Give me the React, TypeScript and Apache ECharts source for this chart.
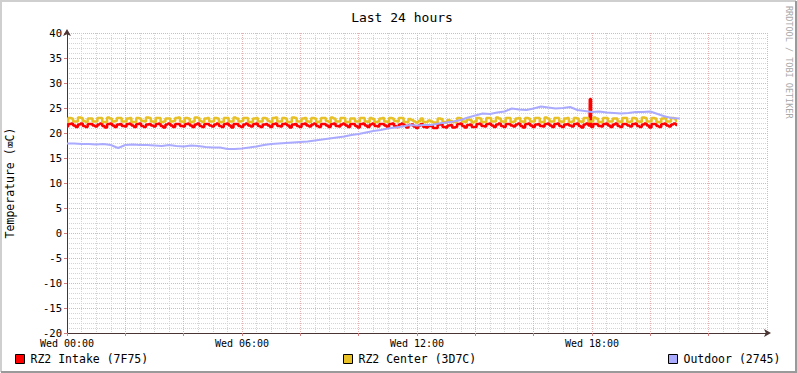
import React, { useEffect, useRef } from "react";
import * as echarts from "echarts";

const TITLE = "Last 24 hours";
const Y_NAME = "Temperature (\u2327C)";
const WATERMARK = "RRDTOOL / TOBI OETIKER";
const SERIES_NAMES = ["RZ2 Intake (7F75)", "RZ2 Center (3D7C)", "Outdoor (2745)"];
const SERIES_COLORS = ["#FF0000", "#E8C127", "#AAAAFF"];
const DAY_PREFIX = "Wed";

// minutes between samples
const STEP_FAST = 5;
const STEP_OUTDOOR = 15;

const intake = [
  21.3, 21.8, 21.9, 21.5, 21.2, 21.7, 21.9, 21.4, 21.2, 21.8, 21.8, 21.5, 21.3, 21.7, 21.9, 21.4,
  21.1, 21.8, 21.9, 21.5, 21.2, 21.7, 21.8, 21.4, 21.3, 21.8, 21.9, 21.5, 21.2, 21.8, 21.9, 21.4,
  21.2, 21.7, 21.8, 21.5, 21.3, 21.8, 21.9, 21.4, 21.1, 21.7, 21.9, 21.5, 21.2, 21.8, 21.8, 21.4,
  21.3, 21.8, 21.9, 21.5, 21.2, 21.7, 21.9, 21.4, 21.2, 21.8, 21.8, 21.5, 21.3, 21.7, 21.9, 21.4,
  21.2, 21.8, 21.9, 21.5, 21.1, 21.8, 21.8, 21.4, 21.2, 21.7, 21.9, 21.5, 21.3, 21.8, 21.9, 21.4,
  21.2, 21.7, 21.8, 21.5, 21.2, 21.8, 21.9, 21.4, 21.3, 21.8, 21.9, 21.5, 21.1, 21.7, 21.8, 21.4,
  21.2, 21.8, 21.9, 21.5, 21.3, 21.7, 21.9, 21.4, 21.2, 21.8, 21.8, 21.5, 21.2, 21.8, 21.9, 21.4,
  21.3, 21.7, 21.9, 21.5, 21.2, 21.8, 21.8, 21.4, 21.1, 21.8, 21.9, 21.5, 21.2, 21.7, 21.9, 21.4,
  21.3, 21.8, 21.8, 21.5, 21.2, 21.8, 21.9, 21.4, 21.2, 21.7, 21.9, 21.5, 21.1, 21.6, 21.7, 21.3,
  21.0, 21.5, 21.8, 21.2, 21.1, 21.4, 21.5, 21.0, 21.0, 21.7, 21.8, 21.2, 21.1, 21.5, 21.6, 21.1,
  21.2, 21.8, 21.9, 21.4, 21.1, 21.6, 21.7, 21.2, 21.2, 21.8, 21.9, 21.4, 21.3, 21.8, 21.9, 21.5,
  21.2, 21.7, 21.9, 21.4, 21.2, 21.8, 21.8, 21.5, 21.3, 21.7, 21.9, 21.4, 21.1, 21.8, 21.9, 21.5,
  21.2, 21.7, 21.8, 21.4, 21.3, 21.8, 21.9, 21.5, 21.2, 21.8, 21.9, 21.4, 21.2, 21.7, 21.8, 21.5,
  21.3, 21.8, 21.9, 21.4, 21.1, 21.7, 21.9, 21.5, 21.2, 21.8, 21.8, 21.4, 21.3, 21.8, 21.9, 21.5,
  21.2, 21.7, 21.9, 21.4, 21.2, 21.8, 21.8, 21.5, 21.3, 21.8, 21.9, 21.4, 21.2, 21.7, 21.9, 21.5,
  21.1, 21.8, 21.8, 21.4, 21.2, 21.8, 21.9, 21.5, 21.3, 21.7, 21.9, 21.6,
];

// [minute, value] — the short sensor spike shortly before 18:00
const intakeSpike = [[1076, 26.8]];

const center = [
  22.2, 23.0, 22.9, 22.3, 22.3, 23.1, 23.0, 22.4, 22.2, 22.9, 22.9, 22.3, 22.3, 23.0, 23.0, 22.2,
  22.2, 23.1, 22.9, 22.3, 22.4, 23.0, 23.0, 22.3, 22.3, 22.9, 23.0, 22.2, 22.2, 23.0, 22.9, 22.4,
  22.3, 23.1, 23.0, 22.3, 22.2, 23.0, 23.0, 22.2, 22.3, 22.9, 22.9, 22.3, 22.4, 23.0, 23.1, 22.3,
  22.2, 23.0, 22.9, 22.2, 22.3, 23.1, 23.0, 22.4, 22.2, 22.9, 23.0, 22.3, 22.3, 23.0, 22.9, 22.2,
  22.2, 23.0, 23.0, 22.3, 22.3, 23.1, 22.9, 22.3, 22.4, 23.0, 23.0, 22.2, 22.2, 22.9, 23.0, 22.3,
  22.3, 23.0, 22.9, 22.4, 22.2, 23.0, 23.1, 22.3, 22.3, 23.0, 22.9, 22.2, 22.2, 23.1, 23.0, 22.3,
  22.3, 22.9, 23.0, 22.3, 22.2, 23.0, 22.9, 22.2, 22.3, 23.0, 23.0, 22.4, 22.2, 23.1, 22.9, 22.3,
  22.3, 23.0, 23.0, 22.2, 22.2, 22.9, 22.9, 22.3, 22.3, 23.0, 23.0, 22.3, 22.2, 23.0, 22.8, 22.2,
  22.3, 22.9, 23.0, 22.3, 22.2, 23.0, 22.9, 22.4, 22.3, 23.0, 23.0, 22.2, 22.2, 22.8, 22.6, 22.3,
  22.1, 22.4, 22.9, 22.2, 22.2, 22.5, 22.3, 22.1, 22.0, 22.9, 22.8, 22.2, 22.1, 22.6, 22.4, 22.2,
  22.2, 23.0, 22.9, 22.3, 22.2, 22.7, 22.6, 22.1, 22.3, 23.0, 22.9, 22.2, 22.2, 23.0, 23.0, 22.3,
  22.3, 23.1, 22.9, 22.3, 22.2, 23.0, 23.0, 22.2, 22.3, 22.9, 23.0, 22.3, 22.2, 23.0, 22.9, 22.3,
  22.3, 23.0, 23.0, 22.2, 22.2, 23.1, 22.9, 22.3, 22.3, 23.0, 23.0, 22.3, 22.2, 22.9, 23.0, 22.2,
  22.3, 23.0, 22.9, 22.3, 22.2, 23.0, 23.0, 22.3, 22.3, 23.1, 22.9, 22.2, 22.2, 23.0, 23.0, 22.3,
  22.3, 22.9, 22.9, 22.3, 22.2, 23.0, 23.0, 22.2, 22.3, 23.0, 22.9, 22.3, 22.2, 23.1, 23.0, 22.3,
  22.3, 23.0, 22.9, 22.2, 22.2, 22.9, 23.0, 22.3, 22.3, 23.0, 22.9, 22.4,
];

const outdoor = [
  17.9, 17.9, 17.8, 17.8, 17.7, 17.8, 17.6, 17.0, 17.6, 17.7,
  17.6, 17.6, 17.5, 17.4, 17.6, 17.4, 17.3, 17.5, 17.4, 17.2,
  17.1, 17.1, 16.8, 16.8, 16.9, 17.1, 17.3, 17.6, 17.8, 17.9,
  18.0, 18.1, 18.2, 18.3, 18.5, 18.7, 18.9, 19.1, 19.3, 19.6,
  19.8, 20.1, 20.4, 20.6, 20.9, 21.1, 21.3, 21.6, 21.5, 21.6,
  21.6, 21.9, 22.1, 22.3, 22.6, 23.1, 23.5, 23.9, 23.8, 24.1,
  24.3, 24.9, 24.7, 24.6, 24.9, 25.3, 25.1, 24.9, 25.0, 25.2,
  24.6, 24.4, 24.2, 24.3, 24.1, 24.0, 23.9, 24.0, 24.2, 24.2,
  24.3, 23.8, 23.3, 23.0, 22.9,
];

const X_MIN = 0;
const X_MAX = 1440;
const X_MAJOR = 120;
const X_LABEL_EVERY = 360;
const Y_MIN = -20;
const Y_MAX = 40;
const Y_MAJOR = 5;

const FONT = "DejaVu Sans Mono";

function pad(n: number) {
  return n < 10 ? "0" + n : String(n);
}

export default function App() {
  const ref = useRef<HTMLDivElement>(null);

  useEffect(() => {
    if (!ref.current) return;
    const chart = echarts.init(ref.current, undefined, { renderer: "svg" });

    const intakeData = intake
      .map((v, i) => [i * STEP_FAST, v])
      .concat(intakeSpike)
      .sort((a, b) => a[0] - b[0]);
    const centerData = center.map((v, i) => [i * STEP_FAST, v]);
    const outdoorData = outdoor.map((v, i) => [i * STEP_OUTDOOR, v]);

    const majorGrid = { color: "#E4B4B4", width: 1, type: [1, 1] as any };
    const minorGrid = { color: "#D4D4D4", width: 1, type: [1, 1] as any };
    const axisLineStyle = { color: "#4A3434", width: 1 };

    const legendBase = {
      icon: "rect",
      itemWidth: 9,
      itemHeight: 9,
      itemGap: 6,
      selectedMode: false,
      padding: 0,
      itemStyle: { borderColor: "#000", borderWidth: 1 },
      textStyle: { fontFamily: FONT, fontSize: 11.5, color: "#000", padding: [0, 0, 0, 1] },
      top: 353,
    };

    chart.setOption({
      animation: false,
      backgroundColor: "#FFFFFF",
      title: {
        text: TITLE,
        left: 397,
        textAlign: "center",
        top: 6,
        textStyle: { fontFamily: FONT, fontSize: 13, fontWeight: "normal", color: "#000" },
      },
      legend: [
        { ...legendBase, data: [SERIES_NAMES[0]], left: 15 },
        { ...legendBase, data: [SERIES_NAMES[1]], left: 343 },
        { ...legendBase, data: [SERIES_NAMES[2]], left: 668 },
      ],
      grid: {
        left: 67,
        right: 30,
        top: 33,
        bottom: 40,
        containLabel: false,
        outerBoundsMode: "none",
      },
      xAxis: {
        type: "value",
        min: X_MIN,
        max: X_MAX,
        interval: X_MAJOR,
        axisLine: {
          show: true,
          onZero: false,
          symbol: ["none", "arrow"],
          symbolSize: [6, 7],
          symbolOffset: [0, 4],
          lineStyle: axisLineStyle,
        },
        axisTick: { show: true, length: 3, lineStyle: { color: "#D08080" } },
        minorTick: { show: false, splitNumber: 4 },
        splitLine: { show: true, lineStyle: majorGrid },
        minorSplitLine: { show: true, lineStyle: minorGrid },
        axisLabel: {
          margin: 5,
          fontFamily: FONT,
          fontSize: 10,
          color: "#000",
          showMaxLabel: false,
          formatter: (v: number) =>
            v % X_LABEL_EVERY === 0 && v < X_MAX ? `${DAY_PREFIX} ${pad(v / 60)}:00` : "",
        },
      },
      yAxis: {
        type: "value",
        min: Y_MIN,
        max: Y_MAX,
        interval: Y_MAJOR,
        name: Y_NAME,
        nameLocation: "middle",
        nameGap: 51,
        nameRotate: 90,
        nameTextStyle: { fontFamily: FONT, fontSize: 11.5, color: "#000" },
        axisLine: {
          show: true,
          onZero: false,
          symbol: ["none", "arrow"],
          symbolSize: [6, 7],
          symbolOffset: [0, 4],
          lineStyle: axisLineStyle,
        },
        axisTick: { show: true, length: 3, lineStyle: { color: "#D08080" } },
        minorTick: { show: false, splitNumber: 5 },
        splitLine: { show: true, lineStyle: majorGrid },
        minorSplitLine: { show: true, lineStyle: minorGrid },
        axisLabel: { margin: 5, fontFamily: FONT, fontSize: 10.5, color: "#000" },
      },
      series: [
        {
          name: SERIES_NAMES[0],
          type: "line",
          data: intakeData,
          showSymbol: false,
          step: "middle",
          color: SERIES_COLORS[0],
          lineStyle: { width: 2.5, color: SERIES_COLORS[0] },
          itemStyle: { color: SERIES_COLORS[0] },
          z: 3,
        },
        {
          name: SERIES_NAMES[1],
          type: "line",
          data: centerData,
          showSymbol: false,
          step: "middle",
          color: SERIES_COLORS[1],
          lineStyle: { width: 2.5, color: SERIES_COLORS[1] },
          itemStyle: { color: SERIES_COLORS[1] },
          z: 3,
        },
        {
          name: SERIES_NAMES[2],
          type: "line",
          data: outdoorData,
          showSymbol: false,
          color: SERIES_COLORS[2],
          lineStyle: { width: 2, color: SERIES_COLORS[2] },
          itemStyle: { color: SERIES_COLORS[2] },
          z: 3,
        },
      ],
      graphic: [
        {
          type: "polyline",
          silent: true,
          shape: { points: [[1, 372], [1, 1], [796, 1]] },
          style: { stroke: "#CFCFCF", lineWidth: 2, fill: null },
        },
        {
          type: "polyline",
          silent: true,
          shape: { points: [[1, 372], [796, 372], [796, 1]] },
          style: { stroke: "#9A9A9A", lineWidth: 2, fill: null },
        },
        {
          type: "text",
          silent: true,
          x: 789,
          y: 6,
          rotation: -Math.PI / 2,
          style: {
            text: WATERMARK,
            fontFamily: FONT,
            fontSize: 8.5,
            fill: "#A8A8A8",
            textAlign: "left",
            textVerticalAlign: "middle",
          },
        },
      ],
    });

    return () => chart.dispose();
  }, []);

  return (
    <div
      ref={ref}
      style={{ position: "fixed", left: 0, top: 0, width: 797, height: 373 }}
    />
  );
}
